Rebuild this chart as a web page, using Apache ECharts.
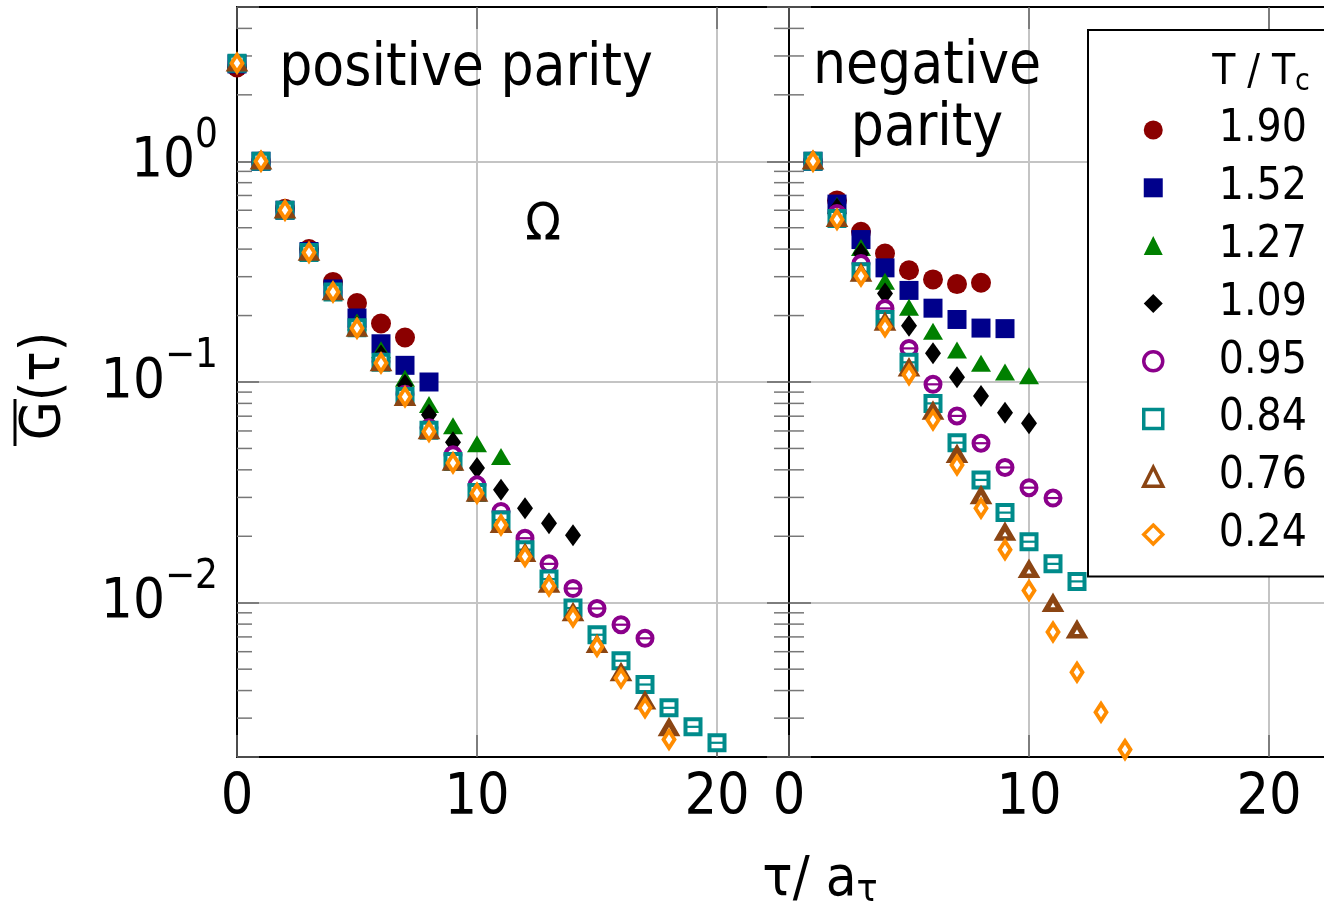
<!DOCTYPE html>
<html>
<head>
<meta charset="utf-8" />
<title>Omega correlator</title>
<script src="https://cdn.jsdelivr.net/npm/echarts@6/dist/echarts.min.js"></script>
<style>
  * { margin: 0; padding: 0; }
  body { background: #fff; }
  #chart { width: 1324px; height: 909px; }
</style>
</head>
<body>
<div id="chart"></div>
<script>
var FONT = "'DejaVu Sans Condensed', 'DejaVu Sans', sans-serif";

// legend labels, T/Tc
var temps = ['1.90', '1.52', '1.27', '1.09', '0.95', '0.84', '0.76', '0.24'];

// positive parity, tau = 0, 1, 2, ...
var pos190 = [2.66, 1.0, 0.61, 0.40, 0.284, 0.228, 0.184, 0.159];
var pos152 = [2.76, 1.0, 0.60, 0.39, 0.264, 0.195, 0.149, 0.119, 0.100];
var pos127 = [2.78, 1.0, 0.60, 0.386, 0.258, 0.187, 0.140, 0.104, 0.079, 0.0634, 0.0525, 0.046];
var pos109 = [2.78, 1.0, 0.60, 0.386, 0.257, 0.178, 0.132, 0.097, 0.071, 0.0533, 0.0408, 0.0325, 0.0268, 0.0229, 0.0202];
var pos095 = [2.78, 1.0, 0.60, 0.386, 0.256, 0.176, 0.124, 0.088, 0.062, 0.0468, 0.0342, 0.0259, 0.0196, 0.0150, 0.0116, 0.00942, 0.00795, 0.0069];
var pos084 = [2.78, 1.0, 0.60, 0.386, 0.256, 0.176, 0.123, 0.086, 0.0605, 0.0436, 0.0316, 0.0237, 0.0174, 0.0128, 0.00946, 0.00716, 0.00546, 0.00426, 0.00334, 0.00274, 0.00232];
var pos076 = [2.78, 1.0, 0.60, 0.386, 0.256, 0.175, 0.122, 0.085, 0.060, 0.0432, 0.0313, 0.0226, 0.0167, 0.0121, 0.0090, 0.00645, 0.00481, 0.00358, 0.00271, 0.0019];
var pos024 = [2.78, 1.0, 0.60, 0.386, 0.256, 0.175, 0.122, 0.0858, 0.0596, 0.043, 0.0313, 0.0225, 0.0162, 0.0119, 0.00861, 0.00634, 0.00456, 0.00334, 0.0024];

// negative parity, tau = 1, 2, 3, ...
var neg190 = [1.0, 0.665, 0.479, 0.382, 0.321, 0.2915, 0.2777, 0.2815];
var neg152 = [1.0, 0.64, 0.442, 0.329, 0.26, 0.216, 0.192, 0.1755, 0.1745];
var neg127 = [1.0, 0.63, 0.407, 0.286, 0.218, 0.170, 0.1395, 0.1215, 0.111, 0.1068];
var neg109 = [1.0, 0.61, 0.382, 0.252, 0.180, 0.135, 0.105, 0.0865, 0.0726, 0.065];
var neg095 = [1.0, 0.58, 0.344, 0.2155, 0.142, 0.0976, 0.0702, 0.0528, 0.041, 0.0332, 0.0298];
var neg084 = [1.0, 0.55, 0.3155, 0.192, 0.1228, 0.080, 0.0531, 0.036, 0.0256, 0.0189, 0.015, 0.01249];
var neg076 = [1.0, 0.55, 0.31, 0.186, 0.1155, 0.0735, 0.0468, 0.0305, 0.0208, 0.0141, 0.0099, 0.0075];
var neg024 = [1.0, 0.545, 0.302, 0.178, 0.108, 0.0673, 0.0421, 0.0268, 0.0174, 0.01137, 0.00737, 0.00484, 0.00319, 0.00216];

// minor ticks of the log axis
var minorTicks = [0.003, 0.004, 0.005, 0.006, 0.007, 0.008, 0.009,
                  0.02, 0.03, 0.04, 0.05, 0.06, 0.07, 0.08, 0.09,
                  0.2, 0.3, 0.4, 0.5, 0.6, 0.7, 0.8, 0.9, 2, 3, 4];

var posSets = [pos190, pos152, pos127, pos109, pos095, pos084, pos076, pos024];
var negSets = [neg190, neg152, neg127, neg109, neg095, neg084, neg076, neg024];

// cap: a short bar drawn across the open marker (error-bar cap)
var markers = [
  {symbol: 'circle',   size: 20,       color: '#8b0000'},
  {symbol: 'rect',     size: 19,       color: '#00008b'},
  {symbol: 'triangle', size: [20, 17], color: '#008000'},
  {symbol: 'diamond',  size: [16, 22], color: '#000000'},
  {symbol: 'circle',   size: 15,       color: '#8b008b', hollow: true, border: 4, cap: [12, 2.2]},
  {symbol: 'rect',     size: 15,       color: '#008b8b', hollow: true, border: 4, cap: [12, 2.2]},
  {symbol: 'triangle', size: [14, 12], color: '#8b4513', hollow: true, border: 5},
  {symbol: 'diamond',  size: [11, 17], color: '#ff8c00', hollow: true, border: 4}
];

function pts(vals, t0) {
  return vals.map(function (v, i) { return [t0 + i, v]; });
}

function powLabel(v) {
  var e = Math.log10(v);
  var n = Math.round(e);
  if (Math.abs(e - n) > 1e-6) return '';
  var sup = n < 0 ? '\u2212' + (-n) : '' + n;
  return '{b|10}{s|' + sup + '}';
}

function itemStyleOf(m) {
  if (m.hollow) return {color: '#fff', borderColor: m.color, borderWidth: m.border, opacity: 1};
  return {color: m.color, borderWidth: 0, opacity: 1};
}

function legendItem(t, k) {
  if (markers[k].hollow) return {name: t, itemStyle: {borderWidth: 3.5}};
  return {name: t};
}

var GRID_LINE = {show: true, showMinLine: false, showMaxLine: false, lineStyle: {color: '#c4c4c4', width: 2}};
var TICK = {show: true, inside: true, length: 22, lineStyle: {color: '#666', width: 1.5}};
var LINE = {show: true, onZero: false, lineStyle: {color: '#000', width: 2}};

function xAx(grid, pos, labels) {
  return {
    type: 'value', gridIndex: grid, position: pos, min: 0, max: 23, interval: 10,
    axisLine: LINE, axisTick: TICK,
    splitLine: labels ? GRID_LINE : {show: false},
    axisLabel: {
      show: labels, fontSize: 57, fontFamily: FONT, color: '#000', margin: 14,
      formatter: function (v) { return v % 10 === 0 ? String(v) : ''; }
    }
  };
}

function yAx(grid, pos, labels, grid2) {
  return {
    type: 'log', logBase: 10, gridIndex: grid, position: pos, min: 0.002, max: 5,
    axisLine: LINE, axisTick: TICK,
    splitLine: grid2 ? GRID_LINE : {show: false},
    axisLabel: {
      show: labels, margin: 19, formatter: powLabel,
      rich: {
        b: {fontSize: 56, fontFamily: FONT, color: '#000', lineHeight: 90},
        s: {fontSize: 40, fontFamily: FONT, color: '#000', lineHeight: 40, verticalAlign: 'top'}
      }
    }
  };
}

var series = [];
temps.forEach(function (name, k) {
  var m = markers[k];
  [[0, posSets[k], 0], [2, negSets[k], 1]].forEach(function (p) {
    series.push({
      type: 'scatter', name: name, xAxisIndex: p[0], yAxisIndex: p[0],
      symbol: m.symbol, symbolSize: m.size, itemStyle: itemStyleOf(m),
      data: pts(p[1], p[2]), z: 3 + k
    });
    if (m.cap) {
      series.push({
        type: 'scatter', name: 'cap ' + name, xAxisIndex: p[0], yAxisIndex: p[0], silent: true,
        symbol: 'rect', symbolSize: m.cap, itemStyle: {color: m.color, opacity: 1},
        data: pts(p[1], p[2]), z: 3 + k
      });
    }
  });
});

// minor ticks: left & right edge of left panel, left edge of right panel
[[0, 0, 1], [0, 23, -1], [2, 0, 1]].forEach(function (e) {
  series.push({
    type: 'scatter', xAxisIndex: e[0], yAxisIndex: e[0], silent: true, z: 1,
    symbol: 'rect', symbolSize: [15, 1.5], symbolOffset: [7.5 * e[2], 0],
    itemStyle: {color: '#777', opacity: 1},
    data: minorTicks.map(function (v) { return [e[1], v]; })
  });
});

var chart = echarts.init(document.getElementById('chart'), null, {renderer: 'canvas'});
chart.setOption({
  backgroundColor: '#fff',
  animation: false,
  grid: [
    {left: 237, top: 7, width: 552, height: 750, outerBoundsMode: 'none'},
    {left: 789, top: 7, width: 552, height: 750, outerBoundsMode: 'none'}
  ],
  xAxis: [xAx(0, 'bottom', true), xAx(0, 'top', false), xAx(1, 'bottom', true), xAx(1, 'top', false)],
  yAxis: [yAx(0, 'left', true, true), yAx(0, 'right', false, false), yAx(1, 'left', false, true)],
  legend: {
    data: temps.map(legendItem),
    orient: 'vertical', left: 1088, top: 30,
    padding: [78, 40, 20, 54],
    itemWidth: 19, itemHeight: 19, itemGap: 13.8,
    borderColor: '#000', borderWidth: 2, backgroundColor: '#fff',
    selectedMode: false,
    formatter: '{t|{name}}',
    textStyle: {
      rich: {t: {fontSize: 44, fontFamily: FONT, color: '#000', lineHeight: 40, padding: [0, 0, 0, 51]}}
    }
  },
  graphic: [
    {type: 'text', x: 466, y: 70, z: 20, style: {text: 'positive parity', font: '58px ' + FONT, fill: '#000', textAlign: 'center', textVerticalAlign: 'middle'}},
    {type: 'text', x: 543, y: 226, z: 20, style: {text: '\u03a9', font: '52px ' + FONT, fill: '#000', textAlign: 'center', textVerticalAlign: 'middle'}},
    {type: 'text', x: 927, y: 99, z: 20, style: {text: 'negative\nparity', font: '58px ' + FONT, lineHeight: 62, fill: '#000', textAlign: 'center', textVerticalAlign: 'middle'}},
    {type: 'text', x: 1261, y: 73, z: 20, style: {
      text: '{a|T / T}{c|c}', textAlign: 'center', textVerticalAlign: 'middle',
      rich: {
        a: {fontSize: 42, fontFamily: FONT, fill: '#000', lineHeight: 48},
        c: {fontSize: 30, fontFamily: FONT, fill: '#000', lineHeight: 30, verticalAlign: 'bottom'}
      }
    }},
    {type: 'text', x: 820, y: 880, z: 20, style: {
      text: '{a|\u03c4/ a}{c|\u03c4}', textAlign: 'center', textVerticalAlign: 'middle',
      rich: {
        a: {fontSize: 56, fontFamily: FONT, fill: '#000', lineHeight: 60},
        c: {fontSize: 39, fontFamily: FONT, fill: '#000', lineHeight: 39, verticalAlign: 'bottom'}
      }
    }},
    {type: 'text', x: 44, y: 386, rotation: Math.PI / 2, z: 20, style: {
      text: 'G(\u03c4)', font: '56px ' + FONT, fill: '#000', textAlign: 'center', textVerticalAlign: 'middle'
    }},
    // overline of the G
    {type: 'line', z: 20, shape: {x1: 15, y1: 399, x2: 15, y2: 446}, style: {stroke: '#000', lineWidth: 3}}
  ],
  series: series
});
</script>
</body>
</html>
